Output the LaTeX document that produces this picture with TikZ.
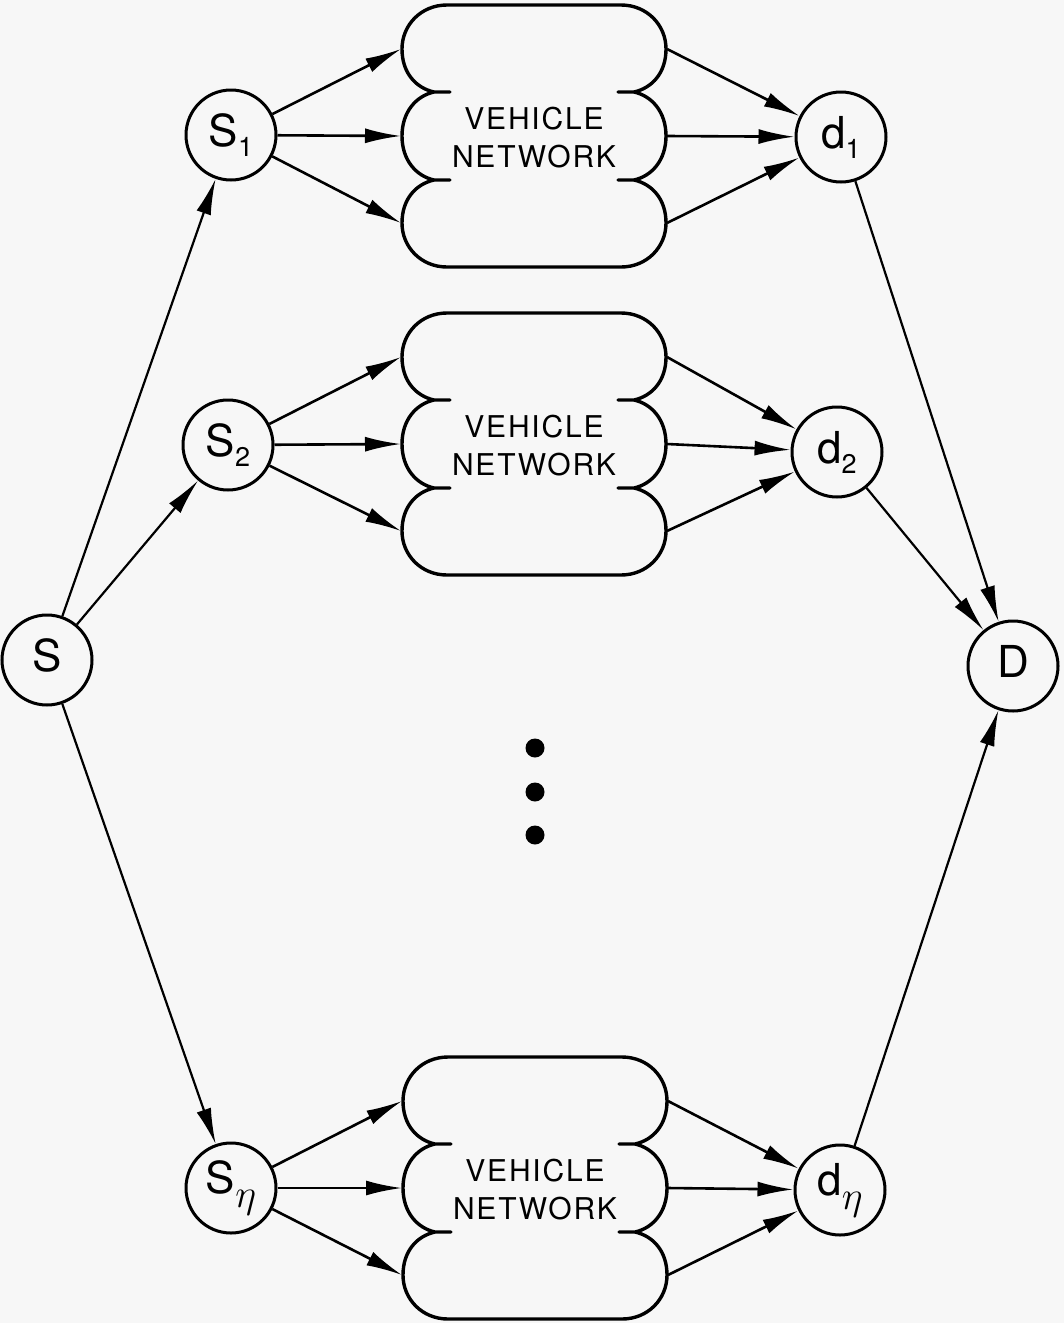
\RequirePackage{fix-cm}
\documentclass[tikz,border=0pt]{standalone}
\usepackage{fontspec}
\setmainfont{TeX Gyre Heros}
\newfontfamily\lettering[LetterSpace=6]{TeX Gyre Heros}
\usetikzlibrary{arrows.meta}
\newcommand\nlab[2]{{\fontsize{44}{44}\selectfont #1}\raisebox{-10pt}{\fontsize{27}{27}\selectfont #2}}
\newcommand\etasub{\raisebox{-4pt}{\fontsize{40}{40}\selectfont$\eta$}}
\tikzset{
  nd/.style={circle,draw,line width=3pt,minimum size=90pt,inner sep=0pt},
  arr/.style={line width=2.6pt,-{Latex[length=36pt,width=15pt]}},
  longarr/.style={line width=2.2pt,-{Latex[length=36pt,width=15pt]}},
  dotn/.style={circle,fill,minimum size=19pt,inner sep=0pt},
  cloudline/.style={line width=3.4pt,line join=round},
  vnet/.pic={
    \draw[cloudline]
      (-87,-131) -- (87,-131)
      .. controls (113,-131) and (132,-111) .. (132,-87)
      .. controls (132,-63) and (118,-48) .. (100,-44)
      -- (84,-44) -- (100,-44)
      .. controls (118,-40) and (132,-24) .. (132,0)
      .. controls (132,24) and (118,40) .. (100,44)
      -- (84,44) -- (100,44)
      .. controls (118,48) and (132,63) .. (132,87)
      .. controls (132,111) and (113,131) .. (87,131)
      -- (-87,131)
      .. controls (-113,131) and (-132,111) .. (-132,87)
      .. controls (-132,63) and (-118,48) .. (-100,44)
      -- (-84,44) -- (-100,44)
      .. controls (-118,40) and (-132,24) .. (-132,0)
      .. controls (-132,-24) and (-118,-40) .. (-100,-44)
      -- (-84,-44) -- (-100,-44)
      .. controls (-118,-48) and (-132,-63) .. (-132,-87)
      .. controls (-132,-111) and (-113,-131) .. (-87,-131) -- cycle;
    \coordinate (-l1) at (-133,-87);
    \coordinate (-l2) at (-133,0);
    \coordinate (-l3) at (-133,87);
    \coordinate (-r1) at (133,-87);
    \coordinate (-r2) at (133,0);
    \coordinate (-r3) at (133,87);
    \node[align=center,inner sep=0pt,font={\lettering\fontsize{30}{38}\selectfont}] (-t) at (0,2) {VEHICLE\\NETWORK};
  }
}
\begin{document}
\begin{tikzpicture}[x=1pt,y=-1pt]
  \fill[white!97!black] (0,0) rectangle (1064,1323);
  \useasboundingbox (0,0) rectangle (1064,1323);

  % clouds
  \pic (c1) at (534,136) {vnet};
  \pic (c2) at (534,444) {vnet};
  \pic (c3) at (535,1188) {vnet};

  % nodes
  \node[nd] (s)  at (47,660)   {\nlab{S}{}};
  \node[nd] (s1) at (231,135)  {\nlab{S}{1}};
  \node[nd] (s2) at (228,445)  {\nlab{S}{2}};
  \node[nd] (sn) at (231,1188) {\nlab{S}{\etasub}};
  \node[nd] (d1) at (841,137)  {\nlab{d}{1}};
  \node[nd] (d2) at (837,452)  {\nlab{d}{2}};
  \node[nd] (dn) at (840,1190) {\nlab{d}{\etasub}};
  \node[nd] (D)  at (1013,666) {\nlab{D}{}};

  % dots
  \node[dotn] (dot1) at (535,748) {};
  \node[dotn] (dot2) at (535,792) {};
  \node[dotn] (dot3) at (535,835) {};

  % source fan-out
  \draw[longarr] (s) -- (s1);
  \draw[longarr] (s) -- (s2);
  \draw[longarr] (s) -- (sn);

  % into networks
  \foreach \a/\c in {s1/c1,s2/c2,sn/c3}{
    \draw[arr] (\a) -- (\c-l1);
    \draw[arr] (\a) -- (\c-l2);
    \draw[arr] (\a) -- (\c-l3);
  }
  % out of networks
  \foreach \c/\b in {c1/d1,c2/d2,c3/dn}{
    \draw[arr] (\c-r1) -- (\b);
    \draw[arr] (\c-r2) -- (\b);
    \draw[arr] (\c-r3) -- (\b);
  }

  % sink fan-in
  \draw[longarr] (d1) -- (D);
  \draw[longarr] (d2) -- (D);
  \draw[longarr] (dn) -- (D);
\end{tikzpicture}
\end{document}
